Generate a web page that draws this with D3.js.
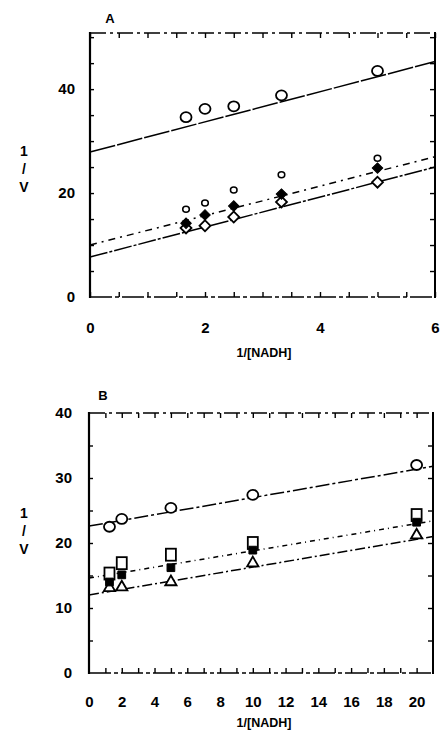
<!DOCTYPE html>
<html>
<head>
<meta charset="utf-8">
<script src="https://cdn.jsdelivr.net/npm/d3@7"></script>
<style>
  html, body { margin: 0; padding: 0; background: #fff; }
  svg { display: block; }
  text { font-family: "Liberation Sans", Arial, sans-serif; font-weight: bold; fill: #000; }
</style>
</head>
<body>
<svg id="chart" width="442" height="737"></svg>
<script>
// ---------- Panel A data ----------
const xA = [1.67, 2.0, 2.5, 3.33, 5.0];              // 1/[NADH]
const aOpenCircle   = [34.6, 36.2, 36.7, 38.8, 43.5];
const aFilledDiamond = [14.2, 15.8, 17.5, 19.8, 24.8];
const aOpenDiamond  = [13.3, 13.7, 15.4, 18.3, 22.1];
const aSmallCircle  = [16.9, 18.1, 20.6, 23.5, 26.7];
// fitted lines read at x = 0 and x = 6
const aLineCircle  = [[0, 27.9], [6, 45.3]];
const aLineFilled  = [[0, 10.0], [6, 27.0]];
const aLineOpen    = [[0, 7.7],  [6, 25.0]];
const aXTickLabels = [0, 2, 4, 6];
const aYTickLabels = [0, 20, 40];

// ---------- Panel B data ----------
const xB = [1.25, 2, 5, 10, 20];
const bOpenCircle   = [22.5, 23.7, 25.4, 27.4, 32.0];
const bOpenSquare   = [15.3, 16.9, 18.2, 20.0, 24.3];
const bFilledSquare = [14.0, 15.1, 16.2, 18.9, 23.2];
const bOpenTriangle = [13.1, 13.2, 14.0, 16.9, 21.2];
// fitted lines read at x = 0 and x = 21
const bLineCircle   = [[0, 22.6], [21, 31.8]];
const bLineSquare   = [[0, 14.6], [21, 23.4]];
const bLineTriangle = [[0, 12.0], [21, 21.0]];
const bXTickLabels = [0, 2, 4, 6, 8, 10, 12, 14, 16, 18, 20];
const bYTickLabels = [0, 10, 20, 30, 40];

const xTitle = "1/[NADH]";
const yTitle = ["1", "/", "V"];

const svg = d3.select("#chart");

function frame(g, x, y, xMinor, yMinor, xLab, yLab, xPad, yPad) {
  const [x0, x1] = x.range();
  const [y0, y1] = y.range();
  const clean = s => s.select(".domain").remove();
  // minor inward ticks on all four sides
  g.append("g").attr("transform", `translate(0,${y0})`)
    .call(d3.axisBottom(x).tickValues(xMinor).tickSize(-5).tickFormat(""))
    .call(clean).selectAll("line").attr("stroke-width", 1.4);
  g.append("g").attr("transform", `translate(0,${y1})`)
    .call(d3.axisTop(x).tickValues(xMinor).tickSize(-5).tickFormat(""))
    .call(clean).selectAll("line").attr("stroke-width", 1.4);
  g.append("g").attr("transform", `translate(${x0},0)`)
    .call(d3.axisLeft(y).tickValues(yMinor).tickSize(-4).tickFormat(""))
    .call(clean).selectAll("line").attr("stroke-width", 1.4);
  g.append("g").attr("transform", `translate(${x1},0)`)
    .call(d3.axisRight(y).tickValues(yMinor).tickSize(-5).tickFormat(""))
    .call(clean).selectAll("line").attr("stroke-width", 1.4);
  // labels
  g.append("g").attr("transform", `translate(0,${y0})`)
    .call(d3.axisBottom(x).tickValues(xLab).tickSize(0).tickPadding(xPad).tickFormat(d3.format("d")))
    .call(clean).selectAll("text").attr("font-size", 15).attr("font-family", null);
  g.append("g").attr("transform", `translate(${x0},0)`)
    .call(d3.axisLeft(y).tickValues(yLab).tickSize(0).tickPadding(yPad).tickFormat(d3.format("d")))
    .call(clean).selectAll("text").attr("font-size", 15).attr("font-family", null);
  // border lines
  const bl = (xa, ya, xb, yb, w, dash) => g.append("line")
    .attr("x1", xa).attr("y1", ya).attr("x2", xb).attr("y2", yb)
    .attr("stroke", "#000").attr("stroke-width", w).attr("stroke-dasharray", dash || null);
  bl(x0, y0 + 1, x0, y1 - 1, 2.2);           // left
  bl(x0, y0, x1, y0, 1.6, "22,3,4,3");       // bottom
  bl(x0, y1, x1, y1, 1.6, "16,4,3,4");       // top
  bl(x1, y0 + 1, x1, y1 - 1, 2.0);           // right
}

function drawLine(g, x, y, pts, dash) {
  g.append("path")
    .datum(pts)
    .attr("d", d3.line().x(d => x(d[0])).y(d => y(d[1])))
    .attr("fill", "none").attr("stroke", "#000").attr("stroke-width", 1.5)
    .attr("stroke-dasharray", dash || null);
}

function circles(g, x, y, xs, ys, r, sw) {
  g.selectAll(null).data(ys).join("ellipse")
    .attr("cx", (d, i) => x(xs[i])).attr("cy", d => y(d))
    .attr("rx", r * 1.1).attr("ry", r)
    .attr("fill", "#fff").attr("stroke", "#000").attr("stroke-width", sw);
}

function symbols(g, x, y, xs, ys, type, size, filled, sw, rot) {
  g.selectAll(null).data(ys).join("path")
    .attr("transform", (d, i) => `translate(${x(xs[i])},${y(d)}) rotate(${rot || 0})`)
    .attr("d", d3.symbol().type(type).size(size))
    .attr("fill", filled ? "#000" : "#fff")
    .attr("stroke", "#000").attr("stroke-width", sw);
}

function yTitleStack(g, xPos, yTop) {
  g.selectAll(null).data(yTitle).join("text")
    .attr("x", xPos).attr("y", (d, i) => yTop + i * 18)
    .attr("text-anchor", "middle").attr("font-size", 14)
    .text(d => d);
}

// ================= Panel A =================
const gA = svg.append("g");
const xa = d3.scaleLinear([0, 6], [90, 435]);
const ya = d3.scaleLinear([0, 50.8], [297, 33]);

frame(gA, xa, ya, d3.range(0, 6.01, 0.5), d3.range(5, 50.1, 5),
      aXTickLabels, aYTickLabels, 25, 15);

drawLine(gA, xa, ya, aLineCircle, "26,2");
drawLine(gA, xa, ya, aLineFilled, "7,5,2,5");
drawLine(gA, xa, ya, aLineOpen, "18,2,3,2");

circles(gA, xa, ya, xA, aSmallCircle, 3, 1.5);
symbols(gA, xa, ya, xA, aOpenDiamond, d3.symbolSquare, 60, false, 1.8, 45);
symbols(gA, xa, ya, xA, aFilledDiamond, d3.symbolSquare, 55, true, 1, 45);
circles(gA, xa, ya, xA, aOpenCircle, 5, 1.8);

gA.append("text").attr("x", 110).attr("y", 23).attr("text-anchor", "middle")
  .attr("font-size", 13).text("A");
gA.append("text").attr("x", 264).attr("y", 357).attr("text-anchor", "middle")
  .attr("font-size", 12.5).text(xTitle);
yTitleStack(gA, 24, 156);

// ================= Panel B =================
const gB = svg.append("g");
const xb = d3.scaleLinear([0, 21], [89, 433]);
const yb = d3.scaleLinear([0, 40], [673, 413]);

frame(gB, xb, yb, d3.range(1, 21, 1), d3.range(5, 40, 5),
      bXTickLabels, bYTickLabels, 23, 17);

drawLine(gB, xb, yb, bLineCircle, "14,3,3,3");
drawLine(gB, xb, yb, bLineSquare, "5,4,1,4");
drawLine(gB, xb, yb, bLineTriangle, "10,3,2,3");

symbols(gB, xb, yb, xB, bOpenTriangle, d3.symbolTriangle, 55, false, 1.8, 0);
gB.selectAll(null).data(bOpenSquare).join("rect")
  .attr("x", (d, i) => xb(xB[i]) - 5).attr("y", d => yb(d) - 6)
  .attr("width", 10).attr("height", 12)
  .attr("fill", "#fff").attr("stroke", "#000").attr("stroke-width", 1.8);
symbols(gB, xb, yb, xB, bFilledSquare, d3.symbolSquare, 60, true, 1, 0);
circles(gB, xb, yb, xB, bOpenCircle, 5, 1.8);

gB.append("text").attr("x", 103).attr("y", 400).attr("text-anchor", "middle")
  .attr("font-size", 13).text("B");
gB.append("text").attr("x", 264).attr("y", 727).attr("text-anchor", "middle")
  .attr("font-size", 12.5).text(xTitle);
yTitleStack(gB, 24, 518);
</script>
</body>
</html>
